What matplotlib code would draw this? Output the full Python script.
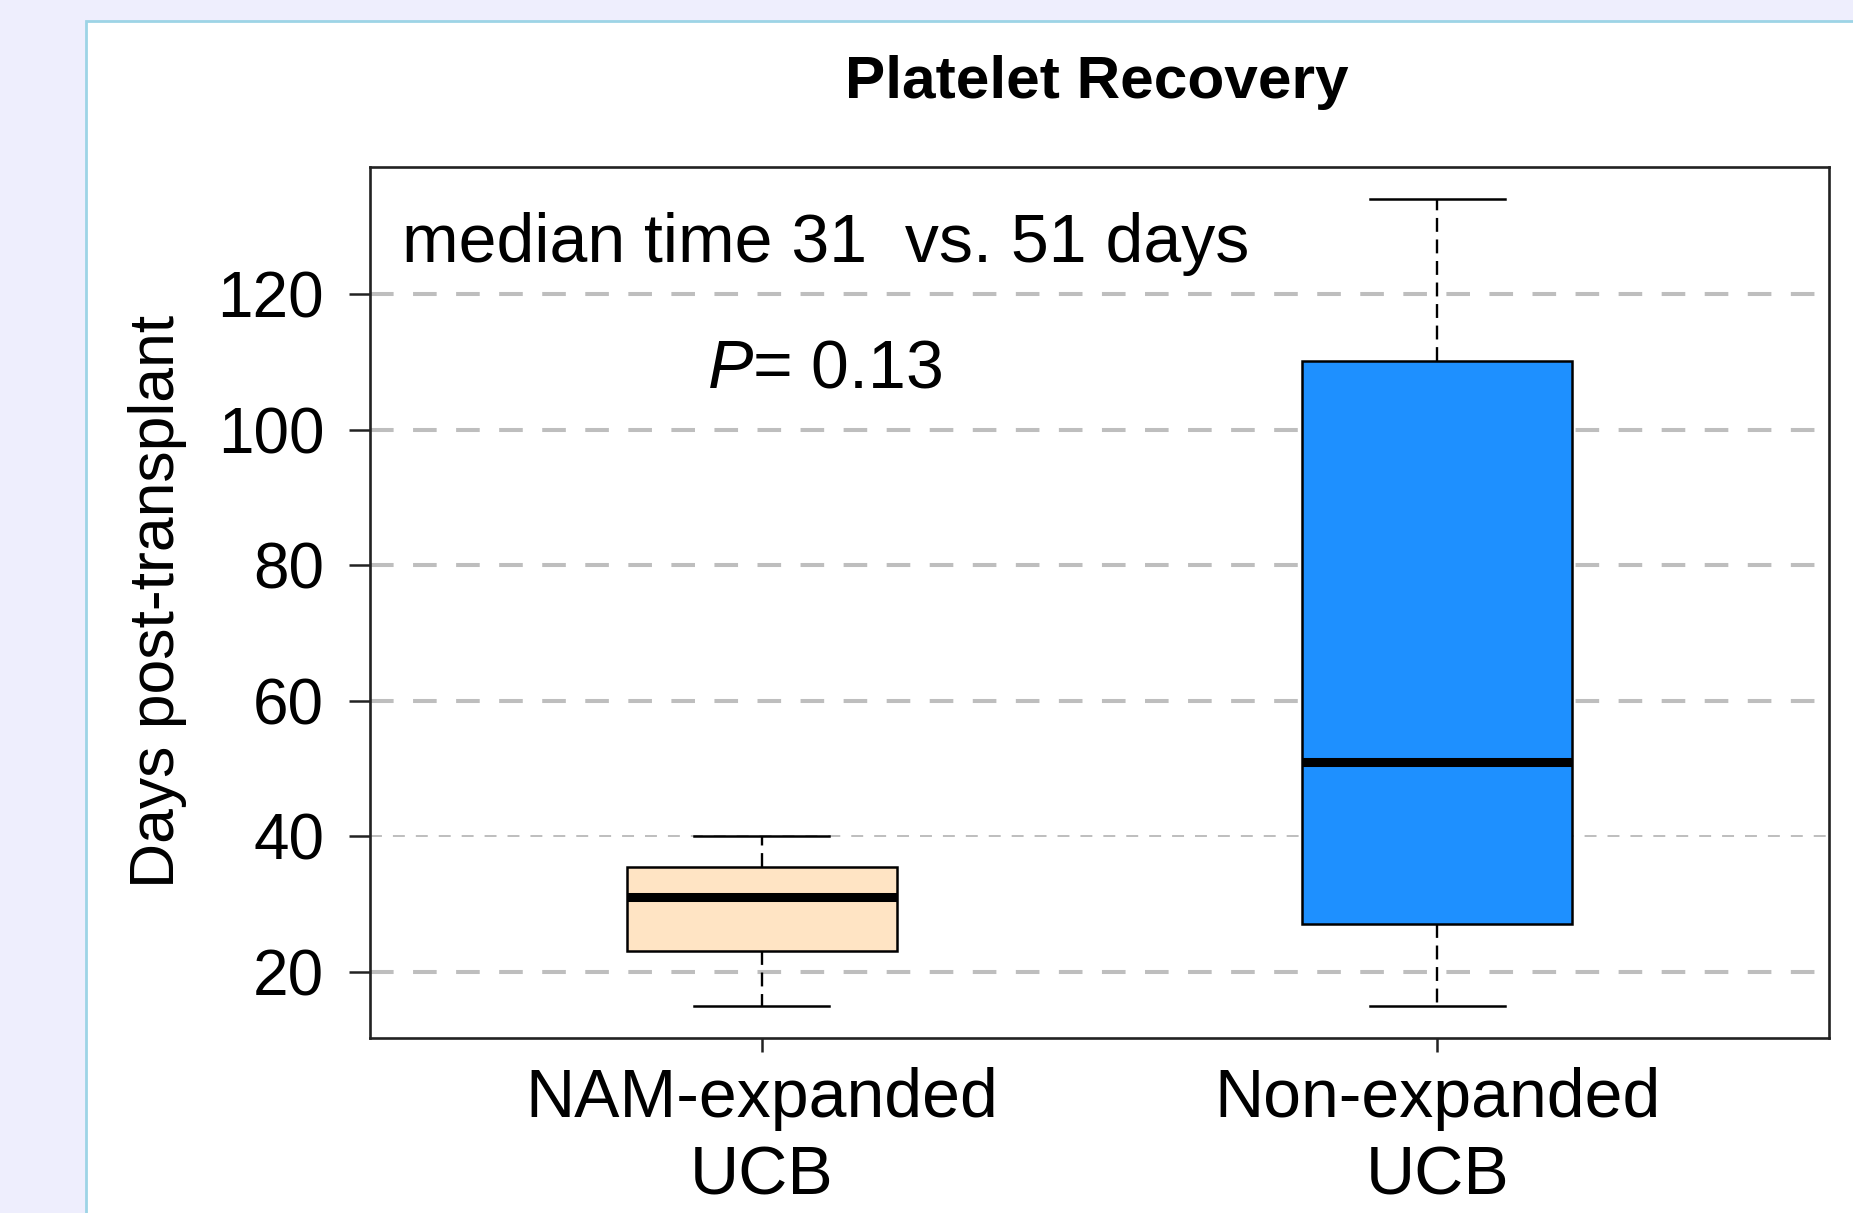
import matplotlib
matplotlib.use("Agg")
import matplotlib.pyplot as plt
from matplotlib.patches import Rectangle

# data
groups = ["NAM-expanded\nUCB", "Non-expanded\nUCB"]
whislo = [15, 15]
q1 = [23.1, 27.1]
med = [31, 51]
q3 = [35.4, 110.1]
whishi = [40, 134]
colors = ["#FFE4C4", "#1E90FF"]

yticks = [20, 40, 60, 80, 100, 120]
thin_grid = [40]

title = "Platelet Recovery"
ylabel = "Days post-transplant"
note1 = "median time 31  vs. 51 days"
note2 = r"$\it{P}$= 0.13"

plt.rcParams["font.family"] = ["Liberation Sans", "DejaVu Sans"]
plt.rcParams["mathtext.fontset"] = "custom"
plt.rcParams["mathtext.rm"] = "Liberation Sans"
plt.rcParams["mathtext.it"] = "Liberation Sans:italic"
plt.rcParams["lines.scale_dashes"] = False

W, H = 1853, 1213
fig = plt.figure(figsize=(W / 100, H / 100), dpi=100, facecolor="#EEEEFD")

# white panel with light blue border
panel = Rectangle((86 / W, -0.01), 1.0, 1 - 21 / H + 0.01, transform=fig.transFigure,
                  facecolor="white", edgecolor="#9DD4E6", linewidth=2, zorder=-10)
fig.patches.append(panel)

ax = fig.add_axes([370 / W, 1 - 1038 / H, (1829 - 370) / W, (1038 - 167) / H])
ax.set_facecolor("white")

# dashed grey grid lines
for y in yticks:
    if y in thin_grid:
        ax.axhline(y, color="#BEBEBE", lw=1.4, dashes=(8.6, 7.9), zorder=0)
    else:
        ax.axhline(y, color="#BEBEBE", lw=2.9, dashes=(17, 14), zorder=0)

stats = []
for i in range(len(groups)):
    stats.append(dict(med=med[i], q1=q1[i], q3=q3[i], whislo=whislo[i],
                      whishi=whishi[i], fliers=[]))

bp = ax.bxp(stats, positions=[1, 2], widths=0.4, capwidths=0.2, patch_artist=True,
            showfliers=False,
            boxprops=dict(edgecolor="black", linewidth=1.8),
            medianprops=dict(color="black", linewidth=6.5, solid_capstyle="butt"),
            whiskerprops=dict(color="black", linewidth=1.7, linestyle=(0, (10, 5.5))),
            capprops=dict(color="black", linewidth=1.8),
            zorder=2)
for patch, c in zip(bp["boxes"], colors):
    patch.set_facecolor(c)

ax.set_xlim(0.42, 2.58)
ax.set_ylim(10.24, 138.76)
ax.set_yticks(yticks)
ax.set_xticks([1, 2])
ax.set_xticklabels(groups, fontsize=49, linespacing=1.27)
ax.tick_params(axis="y", labelsize=46, length=15, width=1.8, pad=18, color="#222222")
ax.tick_params(axis="x", length=10, width=1.8, pad=11, color="#222222")
for s in ax.spines.values():
    s.set_linewidth(1.9)
    s.set_color("#222222")

ax.text(0.467, 124.7, note1, fontsize=49, ha="left", va="baseline")
ax.text(0.919, 106.2, note2, fontsize=49, ha="left", va="baseline")

fig.text(1097 / W, 1 - 83 / H, title, fontsize=43.5, fontweight="bold", ha="center", va="center")
fig.text(158 / W, 1 - 601 / H, ylabel, fontsize=45, rotation=90, ha="center", va="center")

fig.savefig("out.png", dpi=100, facecolor=fig.get_facecolor())
